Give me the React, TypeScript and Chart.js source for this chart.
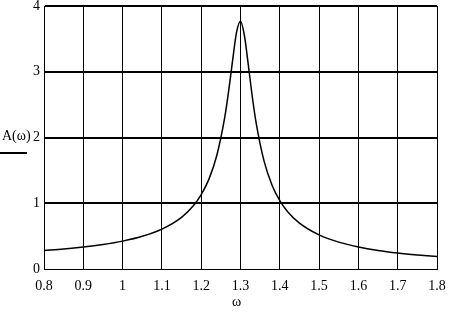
import React, { useEffect, useRef } from "react";
import { Chart, registerables } from "chart.js";

Chart.register(...registerables);

const omega = [0.8, 0.85, 0.9, 0.95, 1.0, 1.05, 1.1, 1.15, 1.18, 1.2, 1.22, 1.24, 1.26, 1.27, 1.28, 1.29, 1.3, 1.31, 1.32, 1.33, 1.34, 1.36, 1.38, 1.4, 1.42, 1.45, 1.5, 1.55, 1.6, 1.65, 1.7, 1.75, 1.8];
const amplitude = [0.28, 0.303, 0.333, 0.372, 0.424, 0.498, 0.607, 0.786, 0.961, 1.13, 1.371, 1.733, 2.309, 2.712, 3.177, 3.602, 3.769, 3.55, 3.096, 2.62, 2.215, 1.64, 1.279, 1.04, 0.872, 0.697, 0.518, 0.409, 0.336, 0.283, 0.244, 0.214, 0.189];
const xTicks = [0.8, 0.9, 1, 1.1, 1.2, 1.3, 1.4, 1.5, 1.6, 1.7, 1.8];
const yTicks = [0, 1, 2, 3, 4];
const yLabel = "A(ω)";
const xLabel = "ω";

const FONT = "'Liberation Serif', 'Times New Roman', serif";

export default function App() {
  const ref = useRef<HTMLCanvasElement | null>(null);

  useEffect(() => {
    const canvas = ref.current;
    if (!canvas) return;
    const labelsPlugin = {
      id: "mathcadLabels",
      afterDraw(chart: any) {
        const ctx = chart.ctx;
        ctx.save();
        ctx.fillStyle = "#000";
        ctx.font = `14px ${FONT}`;
        ctx.textAlign = "left";
        ctx.textBaseline = "alphabetic";
        ctx.fillText(yLabel, 2, 140);
        ctx.fillRect(0, 152, 27, 2);
        ctx.textAlign = "center";
        ctx.textBaseline = "middle";
        const xs = chart.scales.x;
        ctx.fillText(xLabel, (xs.left + xs.right) / 2 - 4, 302);
        ctx.restore();
      },
    };
    const chart = new Chart(canvas, {
      type: "line",
      data: {
        datasets: [
          {
            data: omega.map((x, i) => ({ x, y: amplitude[i] })),
            borderColor: "#000",
            borderWidth: 1.5,
            pointRadius: 0,
            tension: 0.4,
            cubicInterpolationMode: "monotone",
            fill: false,
          },
        ],
      },
      options: {
        animation: false,
        responsive: false,
        maintainAspectRatio: false,
        layout: { padding: { left: 0, right: 12, top: 6, bottom: 0 } },
        plugins: { legend: { display: false }, tooltip: { enabled: false } },
        scales: {
          x: {
            type: "linear",
            min: 0.8,
            max: 1.8,
            afterBuildTicks: (scale: any) => {
              scale.ticks = xTicks.map((v) => ({ value: v }));
            },
            afterFit: (scale: any) => {
              scale.height = 47;
              scale.paddingLeft = 0;
              scale.paddingRight = 0;
            },
            ticks: {
              color: "#000",
              font: { family: FONT, size: 14 },
              padding: 9,
              maxRotation: 0,
              autoSkip: false,
              callback: (v: any) => String(Number(Number(v).toFixed(1))),
            },
            grid: { color: "#000", lineWidth: 1, drawTicks: false },
            border: { color: "#000", width: 1 },
          },
          y: {
            type: "linear",
            min: 0,
            max: 4,
            afterBuildTicks: (scale: any) => {
              scale.ticks = yTicks.map((v) => ({ value: v }));
            },
            afterFit: (scale: any) => {
              scale.width = 44;
              scale.paddingTop = 0;
              scale.paddingBottom = 0;
            },
            ticks: {
              color: "#000",
              font: { family: FONT, size: 14 },
              padding: 4,
              callback: (v: any) => String(v),
            },
            grid: {
              color: "#000",
              lineWidth: (c: any) => (c.tick && c.tick.value === 0 ? 1 : 2),
              drawTicks: false,
            },
            border: { color: "#000", width: 1 },
          },
        },
      },
      plugins: [labelsPlugin],
    } as any);
    return () => chart.destroy();
  }, []);

  return (
    <div style={{ position: "fixed", left: 0, top: 0, width: 449, height: 316, background: "#fff" }}>
      <canvas ref={ref} width={449} height={316} style={{ display: "block", width: 449, height: 316 }} />
    </div>
  );
}
